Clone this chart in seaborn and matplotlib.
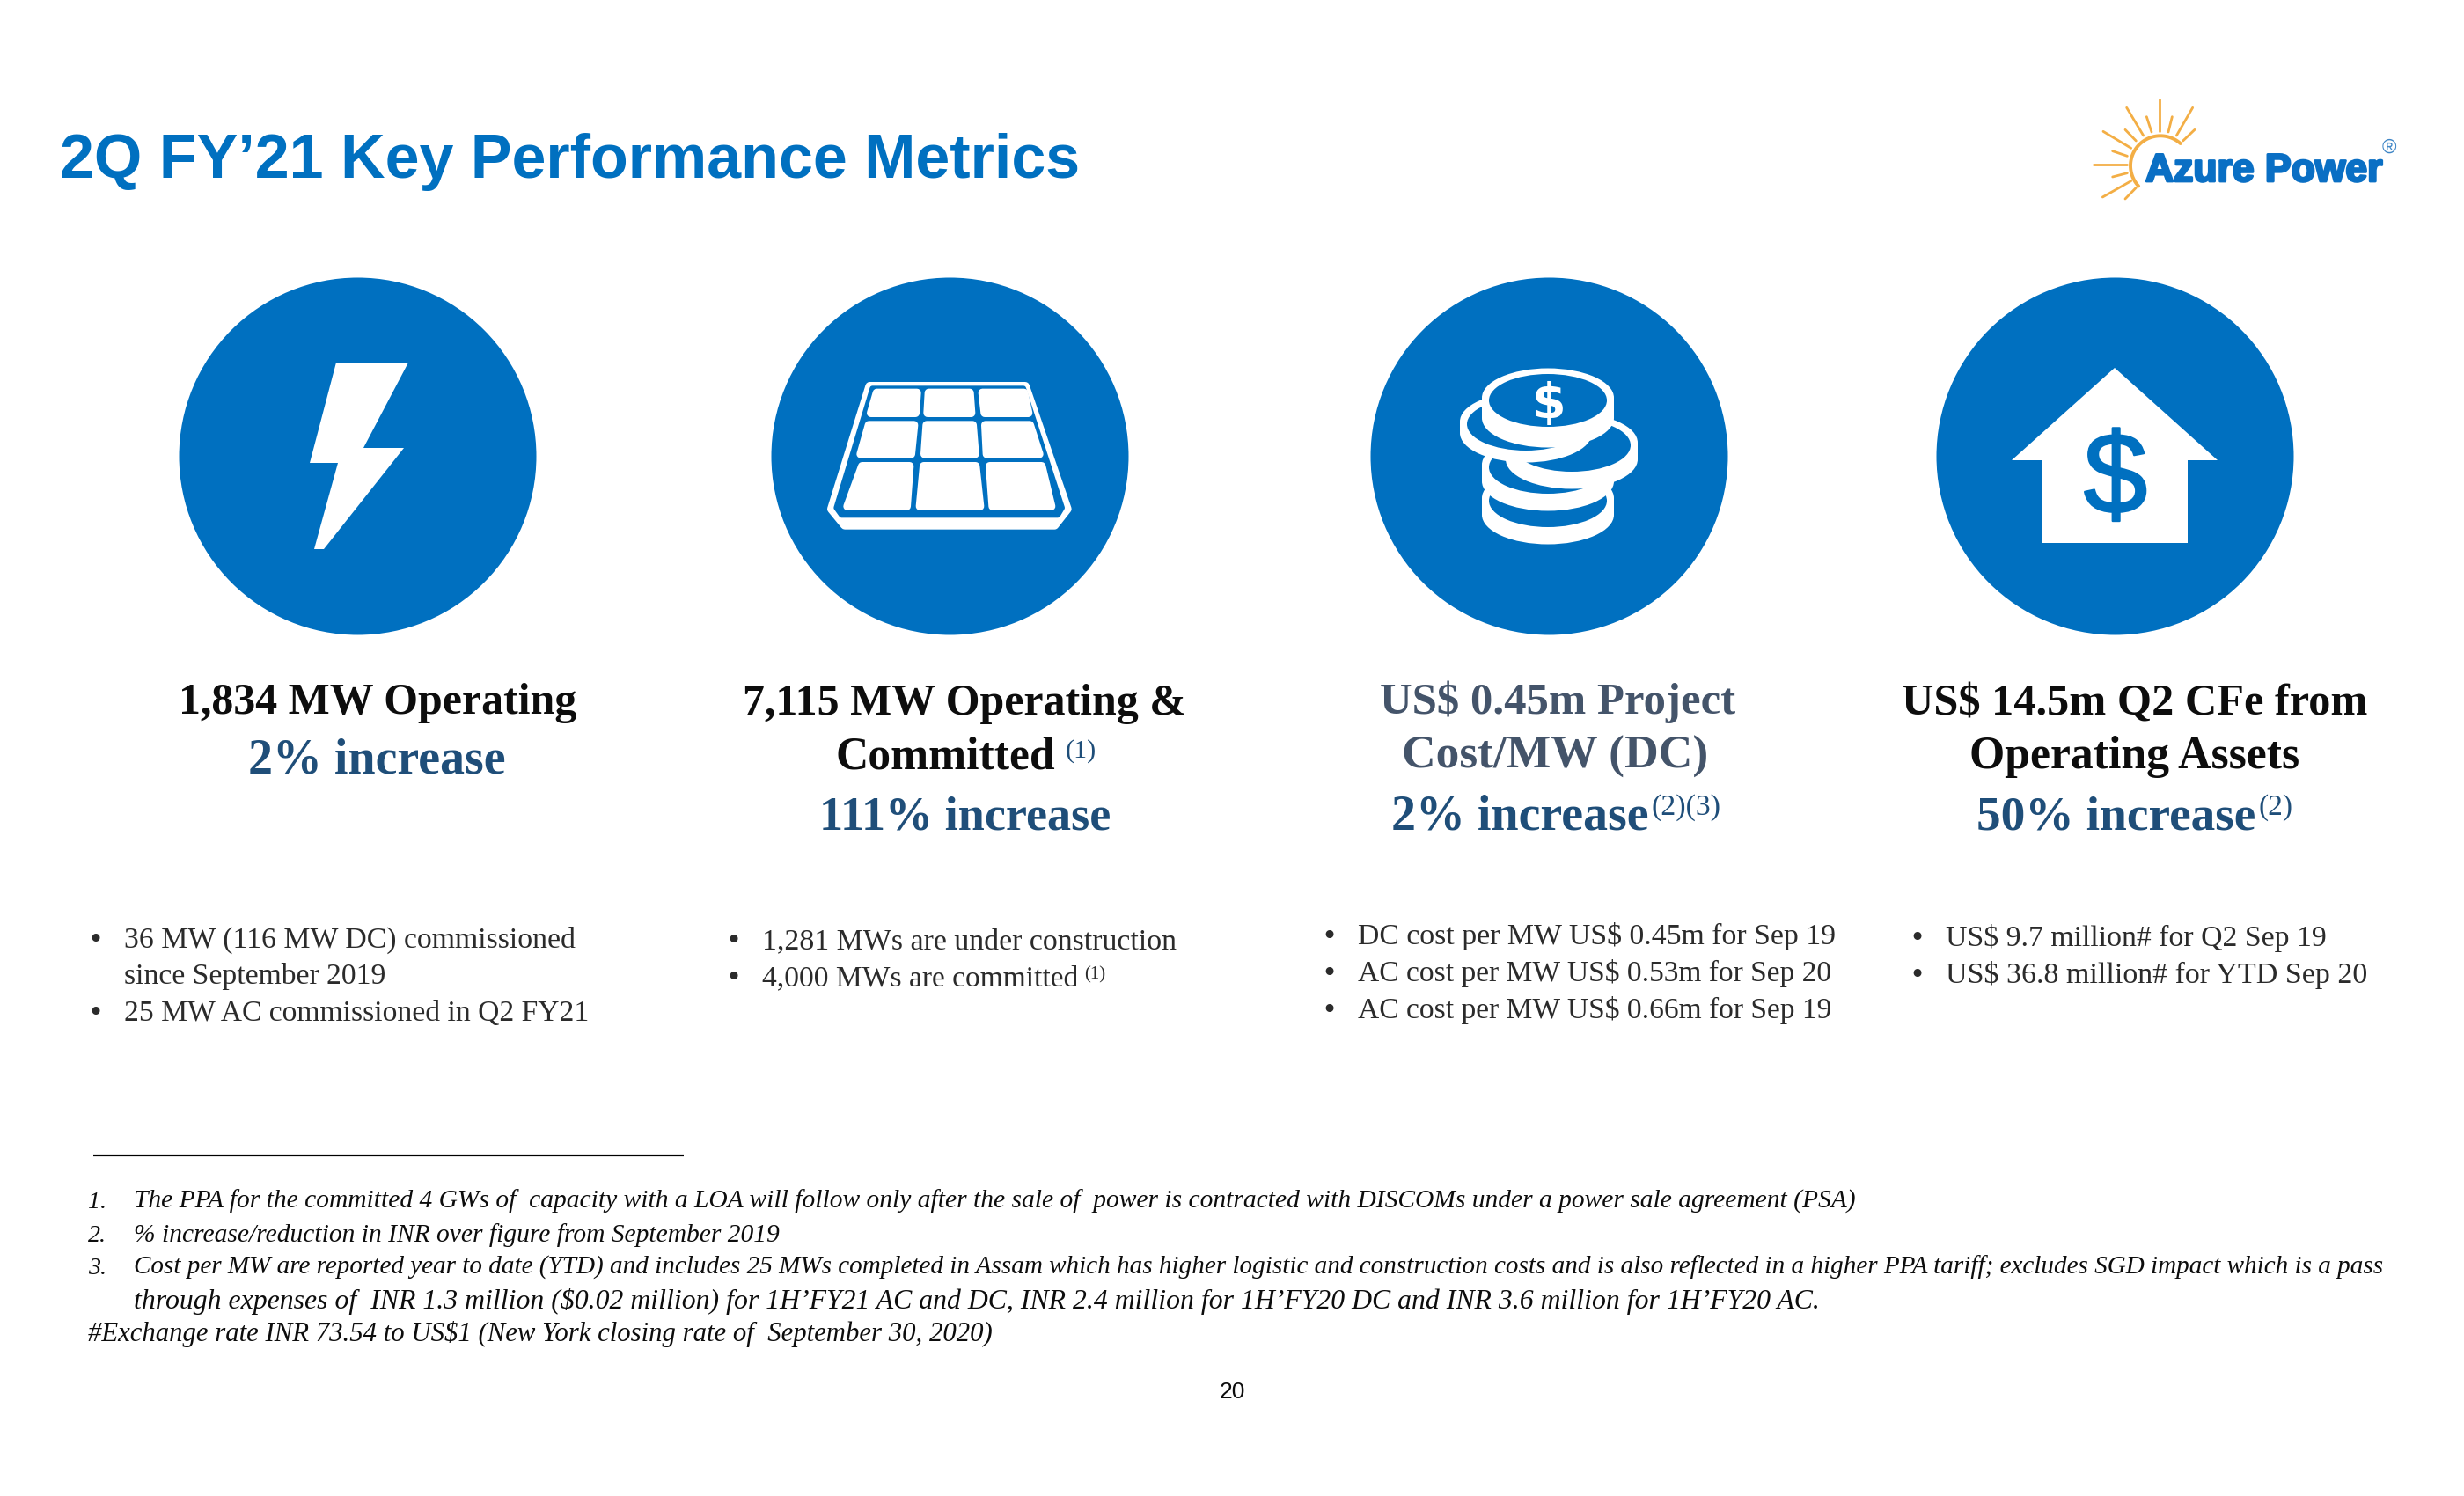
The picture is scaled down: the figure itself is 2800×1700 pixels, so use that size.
import matplotlib
matplotlib.use('Agg')

import numpy as np
import matplotlib.pyplot as plt
import seaborn as sns
from matplotlib.patches import Ellipse, Polygon, Rectangle
from matplotlib import patheffects

BLUE = '#0070C0'
NAVY = '#1F4E79'
SLATE = '#44546A'
ORANGE = '#F3AE45'
BLACK = '#0D0D0D'
INK = '#2B2B2B'

TITLE = '2Q FY’21 Key Performance Metrics'
PAGE = '20'

# card text, one list per block
HEAD_1 = ['1,834 MW Operating', '2% increase']
HEAD_2 = ['7,115 MW Operating &', 'Committed', '111% increase']
HEAD_3 = ['US$ 0.45m Project', 'Cost/MW (DC)', '2% increase']
HEAD_4 = ['US$ 14.5m Q2 CFe from', 'Operating Assets', '50% increase']

NOTES_1 = ['36 MW (116 MW DC) commissioned', 'since September 2019', '25 MW AC commissioned in Q2 FY21']
NOTES_2 = ['1,281 MWs are under construction', '4,000 MWs are committed']
NOTES_3 = ['DC cost per MW US$ 0.45m for Sep 19', 'AC cost per MW US$ 0.53m for Sep 20', 'AC cost per MW US$ 0.66m for Sep 19']
NOTES_4 = ['US$ 9.7 million# for Q2 Sep 19', 'US$ 36.8 million# for YTD Sep 20']

FOOTNOTES = [
    'The PPA for the committed 4 GWs of  capacity with a LOA will follow only after the sale of  power is contracted with DISCOMs under a power sale agreement (PSA)',
    '% increase/reduction in INR over figure from September 2019',
    'Cost per MW are reported year to date (YTD) and includes 25 MWs completed in Assam which has higher logistic and construction costs and is also reflected in a higher PPA tariff; excludes SGD impact which is a pass',
    'through expenses of  INR 1.3 million ($0.02 million) for 1H’FY21 AC and DC, INR 2.4 million for 1H’FY20 DC and INR 3.6 million for 1H’FY20 AC.',
    '#Exchange rate INR 73.54 to US$1 (New York closing rate of  September 30, 2020)',
]
FOOT_MARKS = ['1.', '2.', '3.']

sns.set_theme(style='white')
plt.rcParams['font.family'] = ['Liberation Serif', 'DejaVu Serif']

fig, ax = plt.subplots(figsize=(14, 8.5), dpi=200)
fig.subplots_adjust(0, 0, 1, 1)
fig.patch.set_facecolor('white')

# the four blue discs, pixel scale because the axes fill the figure
disc_x = [406, 1078.5, 1759.5, 2403]
disc_y = [517.5] * 4
sns.scatterplot(x=disc_x, y=disc_y, s=(406 * 72 / 200) ** 2, color=BLUE, linewidth=0, ax=ax, legend=False)
ax.set_xlim(0, 2800)
ax.set_ylim(1700, 0)
ax.axis('off')
renderer = fig.canvas.get_renderer()


def fit(x0, x1, y, s, color=INK, **kw):
    # Garamond is not installed so the size is set from the width in the picture
    t = ax.text(x0, y, s, fontsize=20, color=color, va='baseline', ha='left', parse_math=False, **kw)
    w = t.get_window_extent(renderer).width
    t.set_fontsize(20 * (x1 - x0) / w)
    return t


def poly(pts, color='white', lw=0, z=3):
    p = Polygon(pts, closed=True, facecolor=color, edgecolor=color, linewidth=lw, joinstyle='round', zorder=z)
    ax.add_patch(p)


def rounded(pts, r, color='white', z=5):
    # pull corners in by r and stroke back out, gives the soft corners of the panel
    pts = np.array(pts, dtype=float)
    c = pts.mean(axis=0)
    inner = pts - r * np.sign(pts - c)
    inner = np.column_stack([920 + inner[:, 0] / 3, 410 + inner[:, 1] / 3])
    poly(inner, color=color, lw=2 * (r / 3) * 72 / 200, z=z)


# header
fit(68, 1226, 202, TITLE, color=BLUE, family='Liberation Sans', weight='bold')

# logo
rays = [((342, 68), (342, 178)), ((230, 97), (287, 192)), ((298, 128), (315, 180)), ((385, 128), (372, 180)),
        ((455, 97), (400, 192)), ((462, 172), (422, 210)), ((150, 178), (245, 235)), ((225, 172), (262, 210)),
        ((182, 245), (232, 262)), ((118, 290), (230, 290)), ((182, 333), (232, 320)), ((148, 402), (245, 347)),
        ((225, 408), (262, 370))]
for a, b in rays:
    ax.plot([2340 + a[0] / 3, 2340 + b[0] / 3], [90 + a[1] / 3, 90 + b[1] / 3], color=ORANGE, lw=1.0,
            solid_capstyle='round', zorder=3)
ang = np.radians(np.linspace(48, 223, 50))
ax.plot(2455 + 34 * np.cos(ang), 188.3 - 34 * np.sin(ang), color=ORANGE, lw=1.4, zorder=3)
logo = fit(2438, 2707, 206, 'Azure Power', color='#0A6FC4', family='Liberation Sans', weight='bold')
logo.set_path_effects([patheffects.withStroke(linewidth=1.0, foreground='#0A6FC4')])
ax.text(2715, 168, '®', color='#3F86C6', fontsize=8, ha='center', va='center', family='Liberation Sans', parse_math=False)

# bolt icon
poly([(382, 412), (464, 412), (413, 509), (459, 509), (368, 624), (357, 624), (384, 526), (352, 526)])

rounded([(190, 72), (750, 72), (893, 520), (850, 575), (105, 575), (60, 520)], 15, z=3)
rounded([(205, 85), (738, 85), (870, 510), (855, 535), (100, 535), (82, 510)], 9, color=BLUE, z=4)
cells = [
    [(215, 95), (380, 95), (375, 192), (195, 192)],
    [(392, 95), (560, 95), (565, 192), (388, 192)],
    [(575, 95), (745, 95), (760, 192), (583, 192)],
    [(188, 205), (370, 205), (360, 332), (160, 332)],
    [(385, 205), (570, 205), (578, 332), (378, 332)],
    [(585, 205), (765, 205), (797, 332), (590, 332)],
    [(165, 345), (355, 345), (345, 510), (115, 510)],
    [(375, 345), (580, 345), (595, 510), (362, 510)],
    [(600, 345), (805, 345), (838, 510), (610, 510)],
]
for cell in cells:
    rounded(cell, 14)

# coins icon, stacked bottom to top: centre x, centre y, thickness
coins = [(1759, 569, 16), (1759, 531, 16), (1786, 506, 16), (1734, 482, 10), (1759, 455, 20)]
for i, (cx, cy, th) in enumerate(coins):
    z = 5 + i
    rx, ry = 75, 33.5
    ax.add_patch(Ellipse((cx, cy + th), 2 * rx, 2 * ry, facecolor='white', edgecolor='none', zorder=z))
    ax.add_patch(Rectangle((cx - rx, cy - 3), 2 * rx, th + 3, facecolor='white', edgecolor='none', zorder=z))
    ax.add_patch(Ellipse((cx, cy - 3), 2 * rx, 2 * ry, facecolor='white', edgecolor='none', zorder=z))
    ax.add_patch(Ellipse((cx, cy), 134, 60, facecolor=BLUE, edgecolor='none', zorder=z))
ax.text(1760, 454, '$', color='white', fontsize=20, weight='bold', family='DejaVu Sans', ha='center',
        va='center_baseline', zorder=12, parse_math=False)

# house icon
poly([(2403, 418), (2520, 523), (2486, 523), (2486, 617), (2321, 617), (2321, 523), (2286, 523)])
dollar = ax.text(2404, 535, '$', color=BLUE, fontsize=47, family='Liberation Sans', ha='center', va='center_baseline',
                 zorder=6, parse_math=False)
dollar.set_path_effects([patheffects.withStroke(linewidth=0.8, foreground=BLUE)])

# headings
head_boxes = [
    [(203, 655, 811), (282, 574, 878)],
    [(844, 1347, 812), (949, 1198, 873), (931, 1262, 942)],
    [(1568, 1971, 811), (1593, 1941, 873), (1581, 1873, 942)],
    [(2161, 2691, 812), (2238, 2613, 873), (2246, 2563, 942)],
]
head_colors = [[BLACK, NAVY], [BLACK, BLACK, NAVY], [SLATE, SLATE, NAVY], [BLACK, BLACK, NAVY]]
for lines, boxes, cols in zip([HEAD_1, HEAD_2, HEAD_3, HEAD_4], head_boxes, head_colors):
    for s, (x0, x1, y), col in zip(lines, boxes, cols):
        fit(x0, x1, y, s, color=col, weight='bold')

# footnote markers on the headings
fit(1211, 1246, 861, '(1)', color=NAVY)
fit(1877, 1956, 926, '(2)(3)', color=NAVY)
fit(2567, 2606, 926, '(2)', color=NAVY)

# bullets
note_boxes = [
    (108, [(141, 653, 1077), (141, 437, 1118), (141, 669, 1160)], [0, 2]),
    (833, [(866, 1337, 1078), (866, 1225, 1120)], [0, 1]),
    (1510, [(1543, 2084, 1073), (1543, 2080, 1115), (1543, 2080, 1157)], [0, 1, 2]),
    (2178, [(2211, 2644, 1075), (2211, 2690, 1117)], [0, 1]),
]
for lines, (bx, boxes, marked) in zip([NOTES_1, NOTES_2, NOTES_3, NOTES_4], note_boxes):
    for i, (s, (x0, x1, y)) in enumerate(zip(lines, boxes)):
        fit(x0, x1, y, s)
        if i in marked:
            ax.text(bx, y, '•', color=INK, fontsize=11, ha='center', va='baseline', family='DejaVu Sans')
fit(1232, 1256, 1112, '(1)')

# rule and footnotes
ax.plot([106, 777], [1313, 1313], color='black', lw=0.8, solid_capstyle='butt')
foot_boxes = [(152, 2105, 1373), (152, 886, 1411), (152, 2704, 1448), (152, 2062, 1487), (100, 1127, 1524)]
for s, (x0, x1, y) in zip(FOOTNOTES, foot_boxes):
    fit(x0, x1, y, s, color=BLACK, style='italic')
for s, y in zip(FOOT_MARKS, [1373, 1411, 1448]):
    fit(100, 121, y, s, color=BLACK, style='italic')

ax.text(1400, 1589, PAGE, color=BLACK, fontsize=9.5, family='Liberation Sans', ha='center', va='baseline')

fig.savefig('out.png', dpi=200, facecolor='white')
